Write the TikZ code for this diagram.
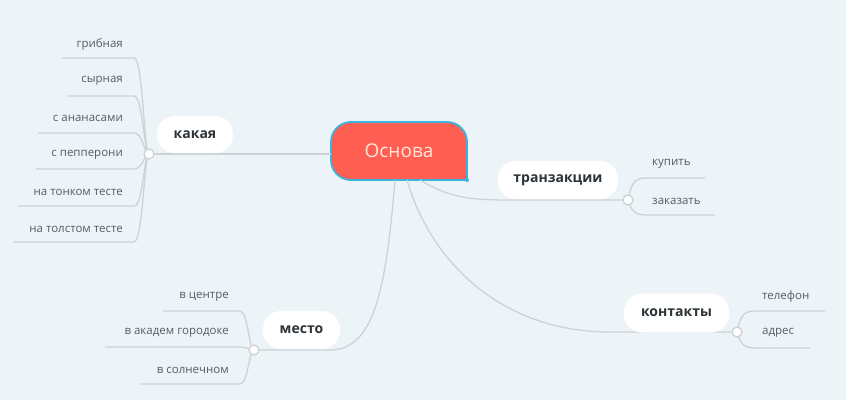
\documentclass[tikz,border=0pt]{standalone}
\usepackage{fontspec}
\setmainfont{Open Sans}
\definecolor{bgc}{HTML}{EDF4F8}
\definecolor{linec}{HTML}{CCD2D5}
\definecolor{leaftext}{HTML}{555D62}
\definecolor{boldtext}{HTML}{2B3338}
\definecolor{mainfill}{HTML}{FF5F52}
\definecolor{mainborder}{HTML}{3AB4DE}
\definecolor{maintext}{HTML}{FFE7DA}
\tikzset{
  conn/.style={draw=linec, line width=1.3pt},
  leaf/.style={inner sep=0pt, text=leaftext, font=\fontsize{11.5}{13}\selectfont},
  pill/.style={fill=white, rounded corners=18pt, inner sep=0pt, text=boldtext, font=\fontsize{14}{16}\selectfont\bfseries},
  hub/.style={circle, fill=white, draw=linec, line width=1.3pt, minimum size=10pt, inner sep=0pt},
}
\begin{document}
\begin{tikzpicture}[x=1pt,y=-1pt]
\useasboundingbox[fill=bgc] (0,0) rectangle (846,400);

% main node
\node[fill=mainfill, draw=mainborder, line width=1.8pt, rounded corners=20pt,
      minimum width=136pt, minimum height=58pt, inner sep=0pt] (osnova) at (399,151) {};
\fill[mainfill] (440,152) rectangle (466.1,179.1);
\draw[mainborder, line width=1.8pt] (440,180) -- (467,180) -- (467,152);
\fill[mainborder] (467,180) circle (2pt);
\node[text=maintext, font=\fontsize{19}{22}\selectfont] (osnovat) at (399,151) {Основа};

% endpoints on main node
\coordinate (oK) at (331,154);
\coordinate (oT) at (420,180);
\coordinate (oM) at (395,180);
\coordinate (oC) at (407,180);

% hubs (positions)
\coordinate (hK) at (149,154);
\coordinate (hT) at (628,200);
\coordinate (hM) at (254,350);
\coordinate (hC) at (737,332);

% main connectors
\draw[conn] (hK) -- (oK);
\draw[conn] (oT) .. controls (450,198) and (470,200) .. (510,200) -- (hT);
\draw[conn] (oC) .. controls (430,260) and (500,332) .. (610,332) -- (hC);
\draw[conn] (oM) .. controls (386,290) and (374,350) .. (330,350) -- (hM);

% pills
\node[pill, minimum width=76pt, minimum height=37pt] (kakaya) at (195,134.5) {какая};
\node[pill, minimum width=120pt, minimum height=38pt] (tranz) at (558,180) {транзакции};
\node[pill, minimum width=77pt, minimum height=38pt] (mesto) at (301.5,330) {место};
\node[pill, minimum width=105pt, minimum height=39pt] (kont) at (676.5,313) {контакты};

% leaves of "какая"
\foreach \t/\ty/\ly/\lx [count=\i] in {грибная/44/58/62, сырная/81/96/67, с ананасами/118/133/38, с пепперони/155/169/36, на тонком тесте/192/206/18, на толстом тесте/229/242/13}{
  \node[leaf, anchor=east] (k\i) at (123,\ty) {\t};
  \coordinate (ks\i) at (\lx,\ly);
  \draw[conn] (ks\i) -- (134,\ly) .. controls (143,\ly) and (144,154) .. (hK);
}

% leaves of "место"
\foreach \t/\ty/\ly/\lx [count=\i] in {в центре/297/311/163, в академ городоке/333/347/105, в солнечном/370/384/140}{
  \node[leaf, anchor=east] (m\i) at (229,\ty) {\t};
  \coordinate (ms\i) at (\lx,\ly);
  \draw[conn] (ms\i) -- (240,\ly) .. controls (248,\ly) and (249,350) .. (hM);
}

% leaves of "транзакции"
\node[leaf, anchor=west] (t1) at (652,164) {купить};
\node[leaf, anchor=west] (t2) at (652,201) {заказать};
\coordinate (ts1) at (705,178);
\coordinate (ts2) at (715,215);
\draw[conn] (hT) .. controls (632,180) and (636,178) .. (648,178) -- (ts1);
\draw[conn] (hT) .. controls (632,213) and (636,215) .. (648,215) -- (ts2);

% leaves of "контакты"
\node[leaf, anchor=west] (c1) at (762,297) {телефон};
\node[leaf, anchor=west] (c2) at (762,333) {адрес};
\coordinate (cs1) at (825,311);
\coordinate (cs2) at (810,348);
\draw[conn] (hC) .. controls (741,313) and (745,311) .. (757,311) -- (cs1);
\draw[conn] (hC) .. controls (741,346) and (745,348) .. (757,348) -- (cs2);

% hub circles
\node[hub] (hubK) at (hK) {};
\node[hub] (hubT) at (hT) {};
\node[hub] (hubM) at (hM) {};
\node[hub] (hubC) at (hC) {};
\end{tikzpicture}
\end{document}
